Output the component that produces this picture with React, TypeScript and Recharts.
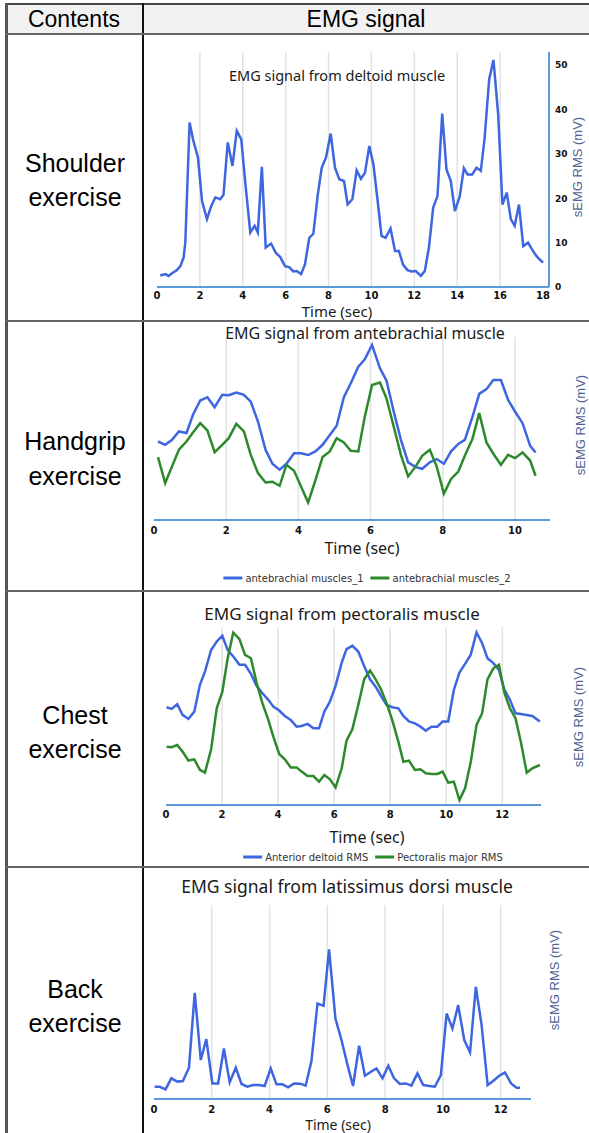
import React from "react"
import { LineChart, Line, XAxis, YAxis, ReferenceLine } from "recharts"

// Shoulder exercise - deltoid
const shoulderTime = [0.15, 0.39, 0.54, 0.7, 0.93, 1.09, 1.24, 1.32, 1.52, 1.68, 1.91, 2.1, 2.33, 2.53, 2.72, 2.95, 3.1, 3.3, 3.52, 3.72, 3.93, 4.11, 4.35, 4.55, 4.7, 4.89, 5.07, 5.32, 5.54, 5.74, 5.97, 6.16, 6.36, 6.52, 6.72, 6.9, 7.1, 7.29, 7.5, 7.68, 7.88, 8.1, 8.3, 8.5, 8.72, 8.89, 9.11, 9.31, 9.51, 9.7, 9.9, 10.09, 10.29, 10.47, 10.66, 10.89, 11.1, 11.28, 11.48, 11.68, 11.87, 12.07, 12.3, 12.49, 12.68, 12.88, 13.08, 13.3, 13.5, 13.7, 13.89, 14.12, 14.31, 14.48, 14.7, 14.9, 15.1, 15.28, 15.49, 15.69, 15.91, 16.11, 16.31, 16.5, 16.68, 16.88, 17.08, 17.3, 17.49, 17.69, 17.85, 18]
const deltoidRms = [2.6, 2.9, 2.5, 3.1, 3.8, 4.7, 6.6, 10, 37.1, 33.3, 29.2, 19.4, 15.3, 18.3, 20.2, 19.8, 20.8, 32.6, 27.3, 35.2, 33.3, 23.9, 12.3, 13.8, 12.3, 27.1, 8.9, 9.8, 7.7, 6.8, 4.7, 4.5, 3.5, 3.6, 2.9, 5.1, 11.1, 12, 20.9, 26.9, 29.2, 34.6, 26.9, 24.3, 23.9, 18.6, 19.8, 26.3, 24.4, 25.8, 31.8, 27.7, 19.4, 11.5, 11.1, 13.2, 8.1, 8.1, 5, 3.8, 3.5, 3.6, 2.5, 3.6, 8.9, 17.9, 20.5, 39.1, 26.5, 23.9, 17.1, 20.5, 26.8, 25.4, 25.4, 26.9, 26.2, 33.7, 46.8, 51.2, 38.9, 18.6, 21.3, 15.3, 13.8, 18.6, 9.2, 10, 8.5, 7, 6.2, 5.5]

// Handgrip exercise - antebrachial
const handTime = [0.11, 0.31, 0.5, 0.69, 0.9, 1.08, 1.28, 1.48, 1.68, 1.89, 2.07, 2.28, 2.49, 2.68, 2.88, 3.09, 3.28, 3.48, 3.67, 3.88, 4.07, 4.27, 4.47, 4.67, 4.87, 5.06, 5.26, 5.45, 5.66, 5.84, 6.04, 6.26, 6.44, 6.64, 6.84, 7.04, 7.25, 7.43, 7.64, 7.83, 8.03, 8.23, 8.43, 8.61, 8.82, 9.01, 9.21, 9.4, 9.61, 9.81, 10, 10.21, 10.42, 10.57]
const antebrachial1 = [42.9, 41.1, 43.8, 48.4, 47.5, 57.5, 65.3, 67.1, 61.6, 68.4, 68.2, 69.6, 68.4, 64.7, 53.8, 38.4, 30.7, 27.5, 30.7, 36.5, 36.5, 35.5, 37.5, 41.1, 46.5, 51.5, 67.1, 74.7, 83.8, 87.8, 95.6, 82.9, 76.2, 59.3, 43.8, 31.5, 28.9, 28, 31.5, 33.3, 30.7, 37.5, 41.6, 43.8, 56.2, 68.9, 71.5, 76.5, 76.5, 65.6, 59.3, 52.9, 40.5, 36.9]
const antebrachial2 = [34.4, 20.2, 29.3, 38.4, 42.9, 47.8, 52.9, 48.9, 37.1, 41.1, 44.7, 52.5, 48.4, 35.6, 25.6, 20.5, 20.9, 18.7, 30.2, 26.9, 18.4, 9.6, 21.6, 34.4, 37.5, 44.7, 42.4, 37.8, 37.5, 56.5, 73.8, 75.1, 66.5, 51.1, 35.6, 23.8, 29.3, 35.1, 38.4, 29.3, 14.4, 22.4, 26.5, 35.1, 44.2, 58.4, 42.4, 36.2, 30.2, 35.6, 33.8, 36.9, 32.5, 24.2]

// Chest exercise - pectoralis
const chestTime = [0.02, 0.2, 0.4, 0.59, 0.8, 1.01, 1.21, 1.39, 1.61, 1.81, 2.01, 2.2, 2.4, 2.62, 2.82, 3.03, 3.23, 3.44, 3.65, 3.83, 4.04, 4.24, 4.45, 4.66, 4.84, 5.05, 5.26, 5.46, 5.65, 5.85, 6.05, 6.27, 6.44, 6.65, 6.86, 7.07, 7.28, 7.48, 7.67, 7.87, 8.07, 8.29, 8.47, 8.67, 8.88, 9.08, 9.27, 9.47, 9.68, 9.87, 10.07, 10.27, 10.47, 10.67, 10.87, 11.08, 11.28, 11.47, 11.68, 11.88, 12.07, 12.27, 12.47, 12.66, 12.87, 13.07, 13.34]
const anteriorDeltoid = [53.3, 52.4, 54.9, 49.1, 46.9, 50.9, 65.5, 72.7, 84.5, 89.1, 92.2, 84.5, 80.9, 76.4, 76.4, 71.5, 64.9, 60.9, 57.3, 53.6, 51.5, 48.5, 46.4, 42.7, 43.1, 44.2, 41.8, 41.8, 50.9, 56.4, 64.9, 77.6, 84.9, 86.7, 83.6, 75.8, 68.5, 64.5, 59.5, 54.5, 53.3, 52.7, 48.5, 45.5, 44.5, 42.7, 40.5, 42.7, 42.7, 45.5, 45.5, 62.7, 72.2, 76.9, 81.8, 94, 88.2, 80, 77.3, 73.6, 63.1, 57.3, 50, 49.6, 49.1, 48.5, 45.5]
const pectoralisMajor = [31.8, 31.5, 32.7, 29.1, 24.2, 24.9, 19.1, 17.6, 30.4, 52.7, 61.8, 80, 94, 90.4, 81.8, 80, 66.7, 55.5, 46.4, 37.3, 27.8, 24.9, 20.5, 20.5, 18.2, 15.8, 15.8, 12.7, 16.4, 14, 9.6, 20, 35.1, 41.3, 54.5, 68.5, 73.3, 68.5, 63.1, 55.5, 46.4, 34.5, 23.6, 24.2, 19.1, 19.5, 17.3, 16.9, 16.9, 18.2, 12.2, 12.7, 2.7, 9.1, 23.1, 43.6, 50, 68.5, 74.5, 76.4, 61.3, 52.7, 47.3, 34.5, 17.6, 20, 21.8]

// Back exercise - latissimus dorsi
const backTime = [0.02, 0.2, 0.4, 0.6, 0.81, 1, 1.21, 1.41, 1.62, 1.81, 2.02, 2.22, 2.42, 2.62, 2.83, 3.03, 3.23, 3.43, 3.64, 3.83, 4.04, 4.24, 4.45, 4.64, 4.85, 5.06, 5.25, 5.45, 5.66, 5.87, 6.06, 6.28, 6.49, 6.7, 6.89, 7.1, 7.3, 7.51, 7.7, 7.91, 8.11, 8.31, 8.51, 8.72, 8.91, 9.12, 9.32, 9.53, 9.72, 9.93, 10.13, 10.33, 10.53, 10.74, 10.94, 11.14, 11.34, 11.55, 11.74, 11.95, 12.15, 12.36, 12.55, 12.67]
const latissimusRms = [6.7, 6.7, 5.3, 11.3, 9.5, 9.8, 17.1, 58, 21.3, 32.7, 8.5, 8.5, 27.6, 9.1, 17.1, 8.2, 6.7, 7.6, 7.6, 7.1, 16.7, 8, 8, 6.4, 8.5, 8.4, 7.3, 20.7, 52.2, 50.9, 81.8, 44, 32.2, 18.5, 7.1, 29.1, 12.7, 14.9, 16.7, 11.3, 18.2, 11.3, 8.2, 8.5, 7.3, 14, 7.6, 7.1, 6.7, 13.1, 46.7, 38.5, 51.3, 32.2, 25.5, 61.3, 40.4, 7.6, 9.8, 12.7, 14.5, 8.5, 6.2, 6.2]

const shoulderTicks = [0, 2, 4, 6, 8, 10, 12, 14, 16, 18]
const shoulderYTicks = [0, 10, 20, 30, 40, 50]
const shoulderGrid = [2, 4, 6, 8, 10, 12, 14, 16]
const handTicks = [0, 2, 4, 6, 8, 10]
const handGrid = [2, 4, 6, 8, 10]
const chestTicks = [0, 2, 4, 6, 8, 10, 12]
const chestGrid = [2, 4, 6, 8, 10, 12]
const backTicks = [0, 2, 4, 6, 8, 10, 12]
const backGrid = [2, 4, 6, 8, 10, 12]

const rowLabels = [
  ["Shoulder", "exercise"],
  ["Handgrip", "exercise"],
  ["Chest", "exercise"],
  ["Back", "exercise"],
]

const BLUE = "#3d66e0"
const GREEN = "#2c8a2c"
const AXIS = "#5b9bd5"
const GRID = "#e2e2e2"
const SANS = "'Noto Sans', sans-serif"
const ARIAL = "'Liberation Sans', Arial, sans-serif"

type Series = { key: string; values: number[]; color: string; name: string }

function Panel(props: {
  x0: number; x1: number; y0: number; y1: number
  xMax: number; yMax: number
  time: number[]; series: Series[]
  ticks: number[]; grid: number[]
  tickGap: number; yTicks?: number[]
}) {
  const { x0, x1, y0, y1, xMax, yMax, time, series, ticks, grid, tickGap, yTicks } = props
  const data = time.map((t, i) => {
    const row: Record<string, number> = { t }
    series.forEach((s) => (row[s.key] = s.values[i]))
    return row
  })
  const yW = yTicks ? 30 : 0
  return (
    <div style={{ position: "absolute", left: x0 - 20, top: y0 - 20 }}>
      <LineChart
        width={x1 - x0 + 60}
        height={y1 - y0 + 40}
        data={data}
        margin={{ top: 20, left: 20, right: 40 - yW, bottom: 0 }}
      >
        {grid.map((g) => (
          <ReferenceLine key={g} x={g} stroke={GRID} strokeWidth={1.5} />
        ))}
        <XAxis
          dataKey="t"
          type="number"
          domain={[0, xMax]}
          ticks={ticks}
          allowDataOverflow
          height={20}
          tickLine={false}
          tickSize={tickGap}
          axisLine={{ stroke: AXIS, strokeWidth: 2 }}
          tick={{ fontSize: 10, fontWeight: "bold", fill: "#111", fontFamily: "DejaVu Sans" }}
        />
        {yTicks ? (
          <YAxis
            orientation="right"
            type="number"
            domain={[0, yMax]}
            ticks={yTicks}
            width={yW}
            tickLine={false}
            tickSize={4}
            axisLine={{ stroke: AXIS, strokeWidth: 2 }}
            tick={{ fontSize: 9, fontWeight: "bold", fill: "#111", fontFamily: "DejaVu Sans" }}
          />
        ) : (
          <YAxis hide width={0} type="number" domain={[0, yMax]} />
        )}
        {series.map((s) => (
          <Line
            key={s.key}
            dataKey={s.key}
            name={s.name}
            type="linear"
            stroke={s.color}
            strokeWidth={2.5}
            dot={false}
            isAnimationActive={false}
          />
        ))}
      </LineChart>
    </div>
  )
}

function Txt(props: { x: number; y: number; size: number; color?: string; font?: string; rotate?: boolean; children: React.ReactNode }) {
  const { x, y, size, color = "#1a1a1a", font = SANS, rotate, children } = props
  return (
    <div
      style={{
        position: "absolute",
        left: x,
        top: y,
        transform: `translate(-50%, -50%)${rotate ? " rotate(-90deg)" : ""}`,
        whiteSpace: "nowrap",
        fontSize: size,
        lineHeight: 1,
        color,
        fontFamily: font,
      }}
    >
      {children}
    </div>
  )
}

function LegendRow(props: { x: number; y: number; items: Series[] }) {
  return (
    <div
      style={{
        position: "absolute",
        left: props.x,
        top: props.y,
        transform: "translate(-50%, -50%)",
        display: "flex",
        alignItems: "center",
        gap: 7,
        whiteSpace: "nowrap",
        fontFamily: "'DejaVu Sans', sans-serif",
        fontSize: 10,
        color: "#333",
      }}
    >
      {props.items.map((s) => (
        <div key={s.key} style={{ display: "flex", alignItems: "center", gap: 3 }}>
          <div style={{ width: 19, height: 3, background: s.color }} />
          <span>{s.name}</span>
        </div>
      ))}
    </div>
  )
}

const rowY = [[163, 197], [441, 476], [715, 749], [989, 1023]]
const hLines = [33, 320, 590, 866]

export default function App() {
  const yLabel = "sEMG RMS (mV)"
  const handSeries: Series[] = [
    { key: "a1", values: antebrachial1, color: BLUE, name: "antebrachial muscles_1" },
    { key: "a2", values: antebrachial2, color: GREEN, name: "antebrachial muscles_2" },
  ]
  const chestSeries: Series[] = [
    { key: "ad", values: anteriorDeltoid, color: BLUE, name: "Anterior deltoid RMS" },
    { key: "pm", values: pectoralisMajor, color: GREEN, name: "Pectoralis major RMS" },
  ]
  return (
    <div
      style={{
        position: "absolute",
        left: 0,
        top: 0,
        width: 589,
        height: 1133,
        background: "#fff",
        overflow: "hidden",
      }}
    >
      {/* table */}
      <div style={{ position: "absolute", left: 7, top: 4, width: 582, height: 29, background: "#f2f2f2" }} />
      <div style={{ position: "absolute", left: 5, top: 3, width: 584, height: 2, background: "#444" }} />
      <div style={{ position: "absolute", left: 5, top: 3, width: 3, height: 1130, background: "#555" }} />
      <div style={{ position: "absolute", left: 142, top: 3, width: 2, height: 1130, background: "#111" }} />
      {hLines.map((y) => (
        <div key={y} style={{ position: "absolute", left: 5, top: y, width: 584, height: 2, background: "#666" }} />
      ))}
      <Txt x={74} y={19} size={23} font={ARIAL} color="#000">Contents</Txt>
      <Txt x={366} y={19} size={23} font={ARIAL} color="#000">EMG signal</Txt>
      {rowLabels.map((lines, i) =>
        lines.map((l, j) => (
          <Txt key={i + "-" + j} x={75} y={rowY[i][j]} size={25} font={ARIAL} color="#000">
            {l}
          </Txt>
        ))
      )}

      {/* shoulder */}
      <Panel
        x0={157} x1={549} y0={52} y1={287} xMax={18.28} yMax={53}
        time={shoulderTime}
        series={[{ key: "d", values: deltoidRms, color: BLUE, name: "deltoid" }]}
        ticks={shoulderTicks} grid={shoulderGrid} tickGap={3} yTicks={shoulderYTicks}
      />
      <Txt x={337} y={75} size={14.5}>EMG signal from deltoid muscle</Txt>
      <Txt x={337} y={311} size={15}>Time (sec)</Txt>
      <Txt x={577} y={167} size={13} rotate color="#4f6394" font={ARIAL}>{yLabel}</Txt>

      {/* handgrip */}
      <Panel
        x0={154} x1={550} y0={337} y1={520} xMax={10.97} yMax={100}
        time={handTime} series={handSeries}
        ticks={handTicks} grid={handGrid} tickGap={5}
      />
      <Txt x={365} y={333} size={16}>EMG signal from antebrachial muscle</Txt>
      <Txt x={362} y={548} size={16}>Time (sec)</Txt>
      <Txt x={580} y={425} size={13} rotate color="#4f6394" font={ARIAL}>{yLabel}</Txt>
      <LegendRow x={367} y={578} items={handSeries} />

      {/* chest */}
      <Panel
        x0={166} x1={541} y0={627} y1={805} xMax={13.38} yMax={97}
        time={chestTime} series={chestSeries}
        ticks={chestTicks} grid={chestGrid} tickGap={4}
      />
      <Txt x={342} y={613} size={17}>EMG signal from pectoralis muscle</Txt>
      <Txt x={367} y={837} size={16}>Time (sec)</Txt>
      <Txt x={578} y={717} size={13} rotate color="#4f6394" font={ARIAL}>{yLabel}</Txt>
      <LegendRow x={373} y={857} items={chestSeries} />

      {/* back */}
      <Panel
        x0={154} x1={531} y0={905} y1={1099} xMax={13.05} yMax={106}
        time={backTime}
        series={[{ key: "l", values: latissimusRms, color: BLUE, name: "latissimus" }]}
        ticks={backTicks} grid={backGrid} tickGap={5}
      />
      <Txt x={347} y={887} size={17.5}>EMG signal from latissimus dorsi muscle</Txt>
      <Txt x={338} y={1125} size={14}>Time (sec)</Txt>
      <Txt x={554} y={980} size={13} rotate color="#4f6394" font={ARIAL}>{yLabel}</Txt>
    </div>
  )
}
